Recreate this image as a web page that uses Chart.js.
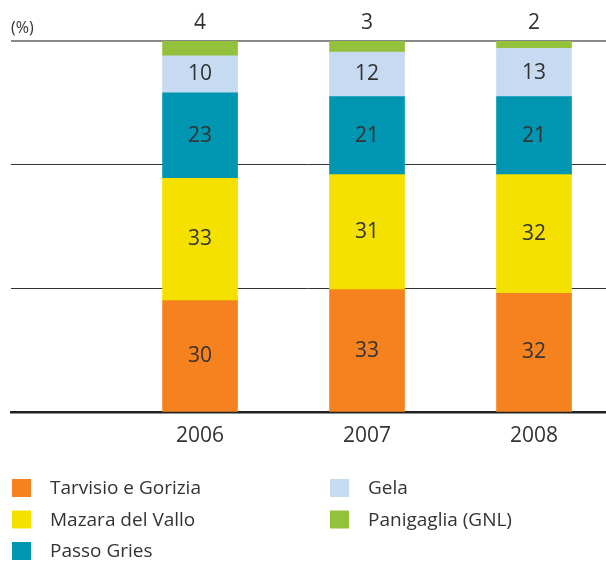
<!DOCTYPE html>
<html>
<head>
<meta charset="utf-8">
<script src="https://cdn.jsdelivr.net/npm/chart.js@4"></script>
<style>
  html, body { margin: 0; padding: 0; background: #fff; }
  #wrap { width: 606px; height: 562px; }
</style>
</head>
<body>
<div id="wrap"><canvas id="flowChart"></canvas></div>
<script>
const years = [2006, 2007, 2008];
const tarvisio = [30, 33, 32];
const mazara = [33, 31, 32];
const passoGries = [23, 21, 21];
const gela = [10, 12, 13];
const panigaglia = [4, 3, 2];
const seriesNames = ['Tarvisio e Gorizia', 'Mazara del Vallo', 'Passo Gries', 'Gela', 'Panigaglia (GNL)'];
const seriesColors = ['#f5821f', '#f5e100', '#0095b0', '#c6daf1', '#93c13b'];
const gridTicks = [0, 100 / 3, 200 / 3, 100];

const FONT = "'Open Sans', 'Noto Sans', sans-serif";
const TEXT = '#333';

// numbers inside the bars, last series above the plot
const valueLabels = {
    id: 'valueLabels',
    afterDatasetsDraw(chart) {
        const ctx = chart.ctx;
        const last = chart.data.datasets.length - 1;
        ctx.save();
        ctx.font = '21px ' + FONT;
        ctx.fillStyle = TEXT;
        ctx.textAlign = 'center';
        ctx.textBaseline = 'middle';
        chart.data.datasets.forEach((ds, i) => {
            chart.getDatasetMeta(i).data.forEach((bar, j) => {
                const y = i === last ? chart.chartArea.top - 18 : (bar.y + bar.base) / 2;
                ctx.fillText(ds.data[j], bar.x, y);
            });
        });
        // unit
        ctx.font = '16px ' + FONT;
        ctx.textAlign = 'left';
        ctx.fillText('(%)', 11, chart.chartArea.top - 13);
        ctx.restore();
    }
};

// legend in two columns
const sideLegend = {
    id: 'sideLegend',
    afterDraw(chart) {
        const ctx = chart.ctx;
        ctx.save();
        ctx.font = '19px ' + FONT;
        ctx.textBaseline = 'middle';
        ctx.textAlign = 'left';
        chart.data.datasets.forEach((ds, i) => {
            const col = i < 3 ? 0 : 1;
            const row = i < 3 ? i : i - 3;
            const x = col === 0 ? 12 : 330;
            const y = 488 + row * 31.5;
            ctx.fillStyle = ds.backgroundColor;
            ctx.fillRect(x, y - 9, 19, 18);
            ctx.fillStyle = TEXT;
            ctx.fillText(ds.label, x + 38, y + 1);
        });
        ctx.restore();
    }
};

const seriesData = [tarvisio, mazara, passoGries, gela, panigaglia];

new Chart(document.getElementById('flowChart'), {
    type: 'bar',
    data: {
        labels: years,
        datasets: seriesData.map((values, i) => ({
            label: seriesNames[i],
            data: values,
            backgroundColor: seriesColors[i],
            borderWidth: 0,
            barThickness: 75
        }))
    },
    options: {
        responsive: true,
        maintainAspectRatio: false,
        animation: false,
        layout: { padding: { left: 11, top: 41, right: 0, bottom: 0 } },
        plugins: {
            legend: { display: false },
            tooltip: { enabled: false }
        },
        scales: {
            x: {
                type: 'linear',
                stacked: true,
                offset: false,
                min: 2004.868,
                max: 2008.431,
                afterBuildTicks: s => { s.ticks = years.map(v => ({ value: v })); },
                afterFit: s => { s.height = 150; },
                grid: { display: false, drawTicks: false, offset: false },
                border: { color: '#222', width: 2.5 },
                ticks: {
                    color: TEXT,
                    font: { family: FONT, size: 21 },
                    padding: 11,
                    maxRotation: 0,
                    autoSkip: false,
                    callback: v => String(v)
                }
            },
            y: {
                stacked: true,
                min: 0,
                max: 100,
                afterBuildTicks: s => { s.ticks = gridTicks.map(v => ({ value: v })); },
                afterFit: s => { s.width = 0; },
                border: { display: false },
                ticks: { display: false },
                grid: {
                    drawTicks: false,
                    color: c => c.tick.value === 100 ? '#888' : (c.tick.value === 0 ? 'rgba(0,0,0,0)' : '#333'),
                    lineWidth: c => c.tick.value === 100 ? 2 : 1
                }
            }
        }
    },
    plugins: [valueLabels, sideLegend]
});
</script>
</body>
</html>
